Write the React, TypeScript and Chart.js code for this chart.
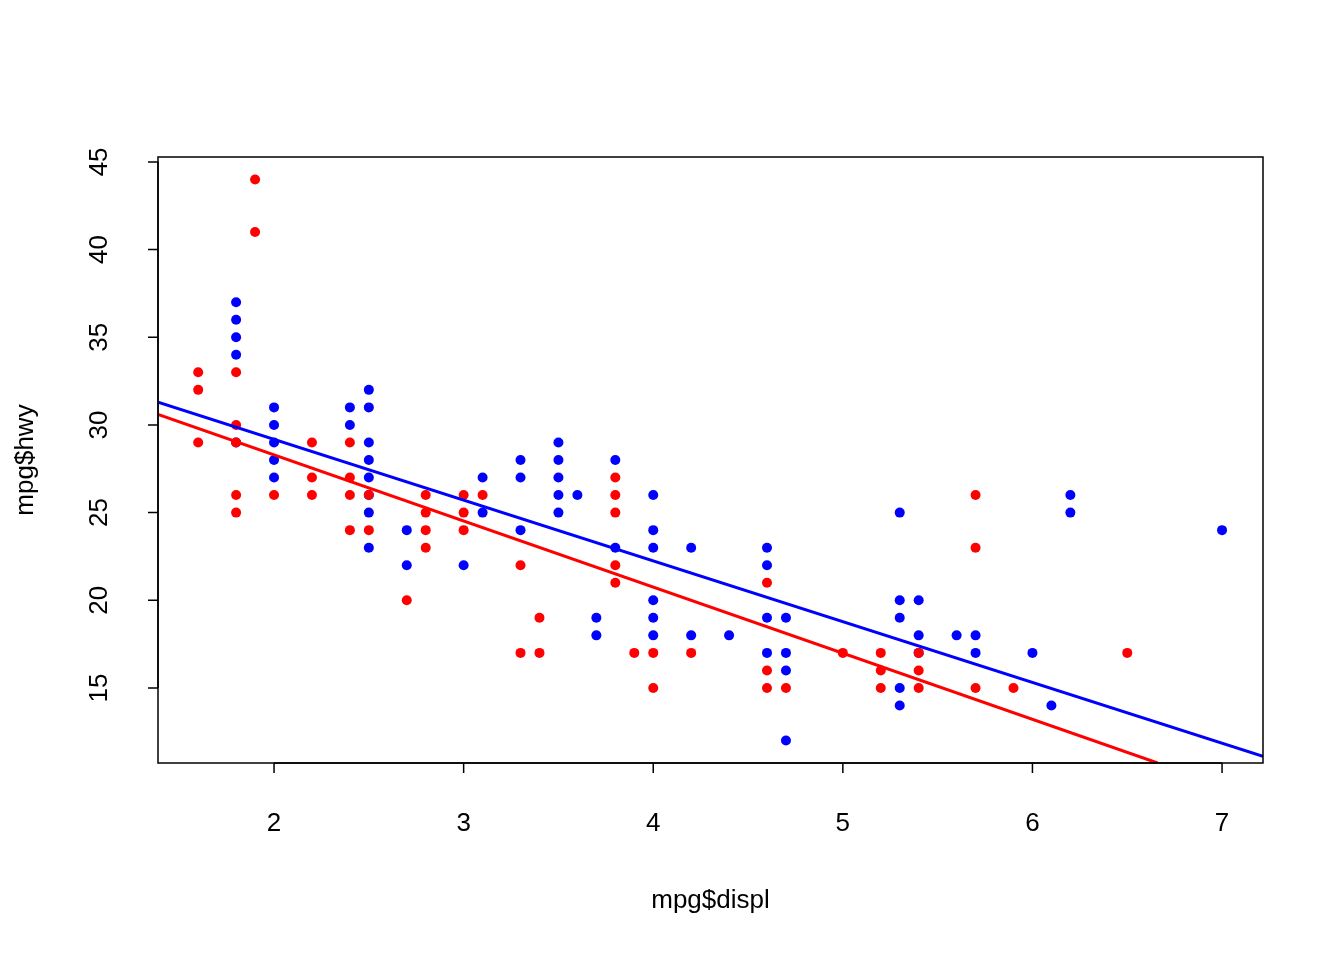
import React, { useEffect, useRef } from "react";
import { Chart, registerables } from "chart.js";
Chart.register(...registerables);

const redPts: [number, number][] = [[1.6,33],[1.6,32],[1.6,29],[1.8,33],[1.8,30],[1.8,29],[1.8,26],[1.8,25],[1.9,44],[1.9,41],[2.0,26],[2.2,29],[2.2,27],[2.2,26],[2.4,29],[2.4,27],[2.4,26],[2.4,24],[2.5,26],[2.5,24],[2.7,20],[2.8,26],[2.8,25],[2.8,24],[2.8,23],[3.0,26],[3.0,25],[3.0,24],[3.1,26],[3.3,22],[3.3,17],[3.4,19],[3.4,17],[3.8,27],[3.8,26],[3.8,25],[3.8,22],[3.8,21],[3.9,17],[4.0,17],[4.0,15],[4.2,17],[4.6,21],[4.6,16],[4.6,15],[4.7,15],[5.0,17],[5.2,17],[5.2,16],[5.2,15],[5.4,17],[5.4,16],[5.4,15],[5.7,26],[5.7,23],[5.7,15],[5.9,15],[6.5,17]];
const bluePts: [number, number][] = [[1.8,37],[1.8,36],[1.8,35],[1.8,34],[1.8,29],[2.0,31],[2.0,30],[2.0,29],[2.0,28],[2.0,27],[2.4,31],[2.4,30],[2.5,32],[2.5,31],[2.5,29],[2.5,28],[2.5,27],[2.5,26],[2.5,25],[2.5,23],[2.7,24],[2.7,22],[3.0,22],[3.1,27],[3.1,25],[3.3,28],[3.3,27],[3.3,24],[3.5,29],[3.5,28],[3.5,27],[3.5,26],[3.5,25],[3.6,26],[3.7,19],[3.7,18],[3.8,28],[3.8,23],[4.0,26],[4.0,24],[4.0,23],[4.0,20],[4.0,19],[4.0,18],[4.2,23],[4.2,18],[4.4,18],[4.6,23],[4.6,22],[4.6,19],[4.6,17],[4.7,19],[4.7,17],[4.7,16],[4.7,12],[5.3,25],[5.3,20],[5.3,19],[5.3,15],[5.3,14],[5.4,20],[5.4,18],[5.4,17],[5.6,18],[5.7,18],[5.7,17],[6.0,17],[6.1,14],[6.2,26],[6.2,25],[7.0,24]];
const redLine: [number, number][] = [[1.388,30.6],[6.66,10.72]];
const blueLine: [number, number][] = [[1.388,31.3],[7.216,11.1]];
const xTicks = [2,3,4,5,6,7];
const yTicks = [15,20,25,30,35,40,45];

const toXY = (a: [number, number][]) => a.map(([x, y]) => ({ x, y }));
const FONT = '26px "Liberation Sans", Arial, sans-serif';

export default function App() {
  const ref = useRef<HTMLCanvasElement>(null);
  useEffect(() => {
    document.body.style.margin = "0";
    const axes = {
      id: "raxes",
      afterDraw(c: any) {
        const ctx = c.ctx, a = c.chartArea, xs = c.scales.x, ys = c.scales.y;
        ctx.save();
        ctx.strokeStyle = "#000"; ctx.lineWidth = 1.5; ctx.fillStyle = "#000"; ctx.font = FONT;
        ctx.strokeRect(a.left, a.top, a.right - a.left, a.bottom - a.top);
        const x0 = xs.getPixelForValue(xTicks[0]), x1 = xs.getPixelForValue(xTicks[xTicks.length - 1]);
        ctx.beginPath(); ctx.moveTo(x0, a.bottom); ctx.lineTo(x1, a.bottom);
        xTicks.forEach(t => { const p = xs.getPixelForValue(t); ctx.moveTo(p, a.bottom); ctx.lineTo(p, a.bottom + 10); });
        const y0 = ys.getPixelForValue(yTicks[0]), y1 = ys.getPixelForValue(yTicks[yTicks.length - 1]);
        ctx.moveTo(a.left, y0); ctx.lineTo(a.left, y1);
        yTicks.forEach(t => { const p = ys.getPixelForValue(t); ctx.moveTo(a.left, p); ctx.lineTo(a.left - 10, p); });
        ctx.stroke();
        ctx.textAlign = "center"; ctx.textBaseline = "middle";
        xTicks.forEach(t => ctx.fillText(String(t), xs.getPixelForValue(t), 824));
        ctx.fillText("mpg$displ", (a.left + a.right) / 2, 901);
        yTicks.forEach(t => { ctx.save(); ctx.translate(100, ys.getPixelForValue(t)); ctx.rotate(-Math.PI / 2); ctx.fillText(String(t), 0, 0); ctx.restore(); });
        ctx.save(); ctx.translate(26, (a.top + a.bottom) / 2); ctx.rotate(-Math.PI / 2); ctx.fillText("mpg$hwy", 0, 0); ctx.restore();
        ctx.restore();
      },
    };
    const chart = new Chart(ref.current!, {
      type: "scatter",
      data: {
        datasets: [
          { data: toXY(redLine), type: "line", showLine: true, borderColor: "#ff0000", borderWidth: 3, pointRadius: 0 } as any,
          { data: toXY(blueLine), type: "line", showLine: true, borderColor: "#0000ff", borderWidth: 3, pointRadius: 0 } as any,
          { data: toXY(redPts), backgroundColor: "#ff0000", borderWidth: 0, pointRadius: 5 },
          { data: toXY(bluePts), backgroundColor: "#0000ff", borderWidth: 0, pointRadius: 5 },
        ],
      },
      options: {
        animation: false, responsive: false, devicePixelRatio: 1,
        layout: { padding: { left: 158, right: 81, top: 157, bottom: 197 } },
        plugins: { legend: { display: false }, tooltip: { enabled: false } },
        scales: {
          x: { type: "linear", min: 1.388, max: 7.216, display: false },
          y: { type: "linear", min: 10.72, max: 45.28, display: false },
        },
      },
      plugins: [axes],
    });
    return () => chart.destroy();
  }, []);
  return <canvas ref={ref} width={1344} height={960} style={{ display: "block" }} />;
}
